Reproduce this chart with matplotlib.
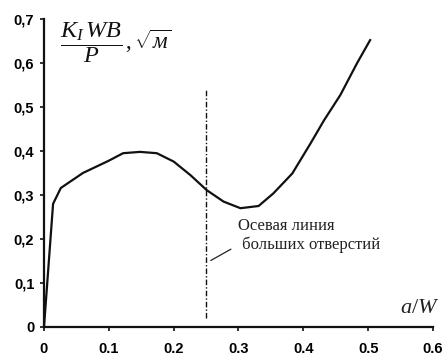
import matplotlib
matplotlib.use("Agg")
import matplotlib.pyplot as plt
from matplotlib.ticker import FuncFormatter

# Data
a_W = [0.0, 0.014, 0.026, 0.06, 0.10, 0.122, 0.148, 0.174, 0.20, 0.226, 0.251,
       0.277, 0.303, 0.331, 0.354, 0.383, 0.411, 0.432, 0.457, 0.483, 0.503]
K = [0.0, 0.28, 0.316, 0.35, 0.378, 0.395, 0.398, 0.395, 0.376, 0.345, 0.311,
     0.285, 0.27, 0.275, 0.304, 0.349, 0.417, 0.47, 0.527, 0.60, 0.652]
x_ticks = [0, 0.1, 0.2, 0.3, 0.4, 0.5, 0.6]
y_ticks = [0, 0.1, 0.2, 0.3, 0.4, 0.5, 0.6, 0.7]
hole_x = 0.25
hole_y = [0.02, 0.54]
note = "Осевая линия\n больших отверстий"

plt.rcParams['mathtext.fontset'] = 'custom'
plt.rcParams['mathtext.rm'] = 'Liberation Serif'
plt.rcParams['mathtext.it'] = 'Liberation Serif:italic'
plt.rcParams['mathtext.bf'] = 'Liberation Serif:bold'

fig = plt.figure(figsize=(4.46, 3.56), dpi=100)
ax = fig.add_axes([44/446, 29/356, 389/446, 308/356])

ax.plot(a_W, K, color='#111111', lw=1.6, solid_joinstyle='round')
ax.plot([hole_x, hole_x], hole_y, color='#111111', lw=1.0,
        linestyle=(0, (4, 1.5, 1, 1.5)))

ax.set_xlim(0, 0.6)
ax.set_ylim(0, 0.7)
ax.set_xticks(x_ticks)
ax.set_yticks(y_ticks)
ax.xaxis.set_major_formatter(FuncFormatter(lambda v, p: '0' if v == 0 else f'{v:.1f}'))
ax.yaxis.set_major_formatter(FuncFormatter(lambda v, p: '0' if v == 0 else f'{v:.1f}'.replace('.', ',')))
for lab in ax.get_xticklabels() + ax.get_yticklabels():
    lab.set_fontweight('bold')
    lab.set_family('Liberation Sans')
    lab.set_fontsize(10.5)
ax.tick_params(axis='both', direction='out', length=3, width=1.2, color='#111111')
ax.tick_params(axis='x', pad=8)
ax.tick_params(axis='y', pad=4)
for s in ['top', 'right']:
    ax.spines[s].set_visible(False)
for s in ['left', 'bottom']:
    ax.spines[s].set_linewidth(1.6)
    ax.spines[s].set_color('#111111')

ax.text(0.2998, 0.209, note, family='Liberation Serif', fontsize=12,
        ha='left', va='center', linespacing=1.2, color='#222222')
ax.annotate('', xy=(0.2535, 0.148), xytext=(0.292, 0.18),
            arrowprops=dict(arrowstyle='-', color='#222222', lw=0.9))

fig.text(60/446, 1 - 43/356, r'$\dfrac{K_I\,WB}{P}$', fontsize=17.5,
         ha='left', va='center', color='#111111')
fig.text(125/446, 1 - 41/356, r'$,\sqrt{м}$', fontsize=16.5,
         ha='left', va='center', color='#111111')
fig.text(440/446, 1 - 307/356, r'$a/W$', fontsize=16, ha='right', va='center',
         color='#222222')

fig.savefig('out.png', dpi=100)
